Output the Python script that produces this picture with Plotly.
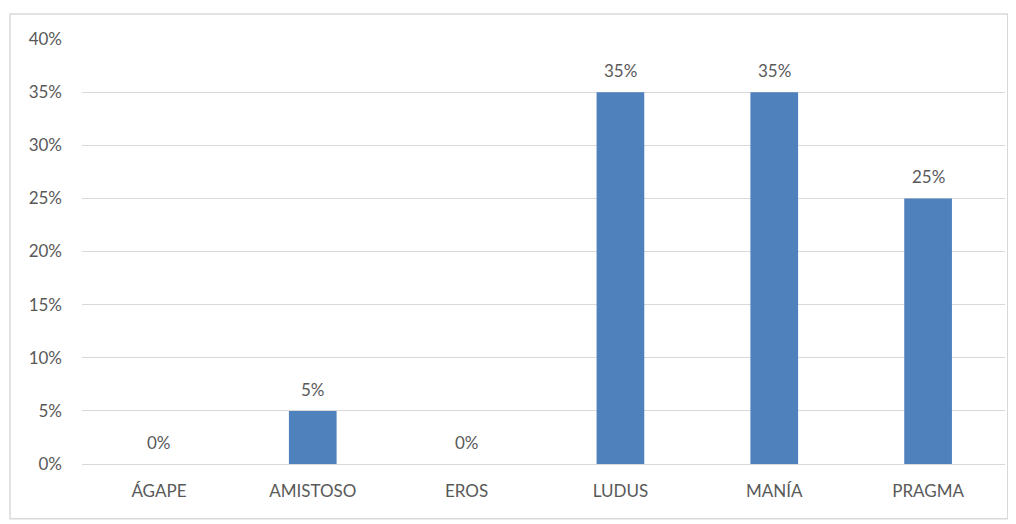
import plotly.graph_objects as go

categories = ["ÁGAPE", "AMISTOSO", "EROS", "LUDUS", "MANÍA", "PRAGMA"]
values = [0, 5, 0, 35, 35, 25]
labels = ["0%", "5%", "0%", "35%", "35%", "25%"]
y_ticks = [0, 5, 10, 15, 20, 25, 30, 35, 40]
y_tick_labels = ["0%", "5%", "10%", "15%", "20%", "25%", "30%", "35%", "40%"]

FONT = "Lato, 'Open Sans', sans-serif"
TXT = "#595959"
FS = 17

fig = go.Figure(go.Bar(
    x=categories, y=values,
    marker=dict(color="#4F81BD", line=dict(width=0)),
    width=0.31, cliponaxis=False, hoverinfo="skip",
))

for c, v, t in zip(categories, values, labels):
    fig.add_annotation(x=c, y=v, text=t, showarrow=False, yanchor="bottom",
                       yshift=9, font=dict(family=FONT, size=FS, color=TXT))

# page body has an 8px margin, so offsets are compensated
fig.update_layout(
    width=1016, height=524,
    margin=dict(l=74, r=19, t=31, b=68),
    paper_bgcolor="white", plot_bgcolor="white",
    showlegend=False,
    font=dict(family=FONT, size=FS, color=TXT),
    xaxis=dict(showgrid=False, showline=False, ticks="", ticklabelstandoff=15,
               tickfont=dict(family=FONT, size=FS, color=TXT)),
    yaxis=dict(range=[0, 40], tickvals=y_ticks, ticktext=y_tick_labels,
               showgrid=True, gridcolor="#D9D9D9", gridwidth=1,
               zeroline=True, zerolinecolor="#D9D9D9", zerolinewidth=1,
               showline=False, ticks="", ticklabelstandoff=19,
               tickfont=dict(family=FONT, size=FS, color=TXT)),
    shapes=[dict(type="rect", xref="paper", yref="paper",
                 x0=-0.078, x1=1.003, y0=-0.129, y1=1.0588,
                 line=dict(color="#D9D9D9", width=1.5), fillcolor="rgba(0,0,0,0)",
                 layer="below")],
)

fig.write_html("out.html")
